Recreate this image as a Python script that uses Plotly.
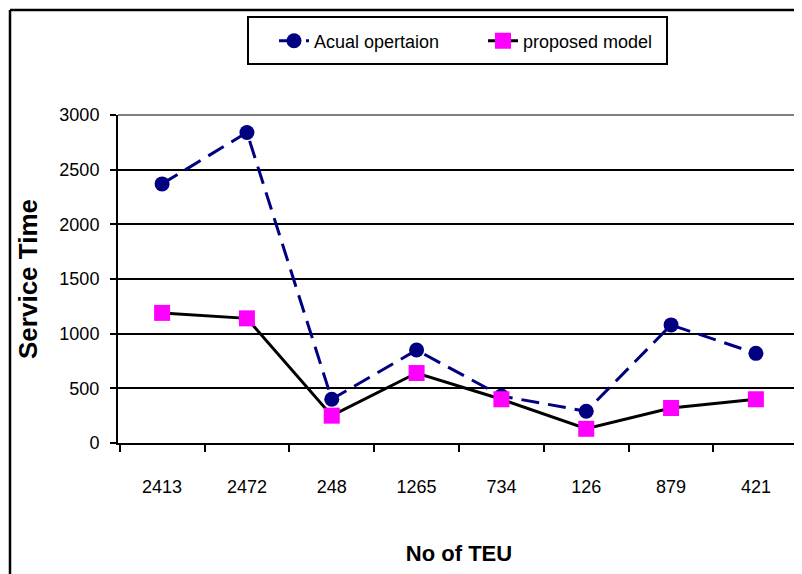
import plotly.graph_objects as go

categories = ["2413", "2472", "248", "1265", "734", "126", "879", "421"]
actual_operation = [2370, 2840, 400, 850, 430, 290, 1080, 820]
proposed_model = [1190, 1140, 250, 640, 400, 130, 320, 400]
y_ticks = [0, 500, 1000, 1500, 2000, 2500, 3000]

FONT = "Liberation Sans, Arial, sans-serif"

fig = go.Figure()
fig.add_trace(go.Scatter(
    x=categories, y=actual_operation, name="Acual opertaion",
    mode="lines+markers",
    line=dict(color="#000080", width=3, dash="18px,9px"),
    marker=dict(symbol="circle", size=15, color="#000080"),
))
fig.add_trace(go.Scatter(
    x=categories, y=proposed_model, name="proposed model",
    mode="lines+markers",
    line=dict(color="#000000", width=3),
    marker=dict(symbol="square", size=16, color="#FF00FF"),
))

# page body has an 8px default margin; work in screen coordinates
OFF = 8
W, H = 802, 574
SL, SR, ST, SB = 118, 800, 115, 443  # plot area in screen px
L, T = SL - OFF, ST - OFF
R = W - (SR - OFF)
B = H - (SB - OFF)
pw, ph = W - L - R, H - T - B

def px(xs):
    return (xs - OFF - L) / pw

def py(ys):
    return (H - B - (ys - OFF)) / ph

fig.update_layout(
    width=W, height=H,
    margin=dict(l=L, r=R, t=T, b=B, pad=0, autoexpand=False),
    paper_bgcolor="white", plot_bgcolor="white",
    showlegend=True,
    legend=dict(
        orientation="h", x=px(274), y=py(41), xanchor="left", yanchor="middle",
        borderwidth=0, bgcolor="rgba(0,0,0,0)",
        font=dict(family=FONT, size=18, color="black"),
        entrywidth=164,
    ),
    xaxis=dict(
        type="category", tickson="boundaries", automargin=False,
        ticks="outside", ticklen=7, tickwidth=1.5, tickcolor="black",
        showline=True, linecolor="black", linewidth=2,
        showgrid=False,
        tickfont=dict(family=FONT, size=18, color="black"),
        ticklabelstandoff=26,
        title=dict(text="<b>No of TEU</b>", font=dict(family=FONT, size=22, color="black"), standoff=50),
    ),
    yaxis=dict(
        range=[0, 3000], tickvals=y_ticks, automargin=False,
        ticks="outside", ticklen=6, tickwidth=1.5, tickcolor="black",
        showline=True, linecolor="black", linewidth=2,
        showgrid=True, gridcolor="black", gridwidth=1.5,
        zeroline=False,
        tickfont=dict(family=FONT, size=18, color="black"),
        ticklabelstandoff=7,
        title=dict(text="<b>Service Time</b>", font=dict(family=FONT, size=26, color="black"), standoff=14),
    ),
    shapes=[
        dict(type="line", xref="paper", yref="paper", x0=0, x1=1, y0=1, y1=1,
             line=dict(color="#808080", width=2)),
        dict(type="line", xref="paper", yref="paper", x0=1, x1=1, y0=0, y1=1,
             line=dict(color="#808080", width=2)),
        dict(type="line", xref="paper", yref="paper", x0=px(10), x1=px(10), y0=py(590), y1=py(10),
             line=dict(color="black", width=2.5)),
        dict(type="line", xref="paper", yref="paper", x0=px(10), x1=px(820), y0=py(10), y1=py(10),
             line=dict(color="black", width=2.5)),
        dict(type="rect", xref="paper", yref="paper", x0=px(248), x1=px(667), y0=py(64), y1=py(17),
             line=dict(color="black", width=2), fillcolor="rgba(0,0,0,0)"),
    ],
)

fig.write_html("out.html")
